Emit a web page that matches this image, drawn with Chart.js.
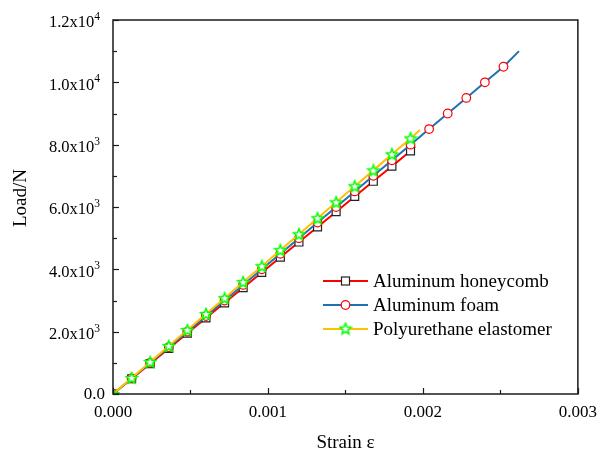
<!DOCTYPE html>
<html><head><meta charset="utf-8">
<script src="https://cdn.jsdelivr.net/npm/chart.js@4/dist/chart.umd.min.js"></script>
<style>html,body{margin:0;padding:0;background:#fff}#wrap{width:597px;height:454px}</style>
</head><body><div id="wrap"><canvas id="c" width="597" height="454"></canvas></div>
<script>
// ---- data ----
const seriesNames = ['Aluminum honeycomb', 'Aluminum foam', 'Polyurethane elastomer'];
const xTitle = 'Strain ε';
const yTitle = 'Load/N';

const strainHoneycomb = [0, 0.00012, 0.00024, 0.00036, 0.00048, 0.0006, 0.00072, 0.00084, 0.00096, 0.00108, 0.0012, 0.00132, 0.00144, 0.00156, 0.00168, 0.0018, 0.00192, 0.00195];
const loadHoneycomb   = [0, 490, 975, 1460, 1950, 2440, 2925, 3410, 3900, 4390, 4875, 5360, 5850, 6340, 6825, 7310, 7800, 7940];

const strainFoam = [0, 0.00012, 0.00024, 0.00036, 0.00048, 0.0006, 0.00072, 0.00084, 0.00096, 0.00108, 0.0012, 0.00132, 0.00144, 0.00156, 0.00168, 0.0018, 0.00192, 0.00204, 0.00216, 0.00228, 0.0024, 0.00252, 0.00262];
const loadFoam   = [0, 500, 1000, 1500, 2000, 2500, 3000, 3500, 4000, 4500, 5000, 5500, 6000, 6500, 7000, 7500, 8000, 8500, 9000, 9500, 10000, 10500, 11000];

const strainPU = [0, 0.00012, 0.00024, 0.00036, 0.00048, 0.0006, 0.00072, 0.00084, 0.00096, 0.00108, 0.0012, 0.00132, 0.00144, 0.00156, 0.00168, 0.0018, 0.00192, 0.00198];
const loadPU   = [0, 515, 1025, 1540, 2050, 2565, 3075, 3590, 4100, 4615, 5125, 5640, 6150, 6665, 7175, 7690, 8200, 8470];

const xTickValues = [0, 0.001, 0.002, 0.003];
const yTickValues = [0, 2000, 4000, 6000, 8000, 10000, 12000];

// ---- styling ----
const FONT = '"Liberation Serif", "Times New Roman", serif';
const colors = ['#FF0000', '#1F72B0', '#FFC000'];

function makeStar(){
  const c = document.createElement('canvas');
  c.width = 14; c.height = 14;
  const g = c.getContext('2d');
  g.beginPath();
  for (let i = 0; i < 10; i++) {
    const r = i % 2 === 0 ? 5.8 : 2.6;
    const a = -Math.PI / 2 + i * Math.PI / 5;
    const px = 7 + r * Math.cos(a), py = 7.4 + r * Math.sin(a);
    if (i === 0) g.moveTo(px, py); else g.lineTo(px, py);
  }
  g.closePath();
  g.fillStyle = '#ffffff'; g.fill();
  g.strokeStyle = '#00FF00'; g.lineWidth = 1.5; g.stroke();
  return c;
}
const starImg = makeStar();

function pairs(xs, ys){ return xs.map((x, i) => ({x: x, y: ys[i]})); }
function lastHidden(r){ return ctx => ctx.dataIndex === ctx.dataset.data.length - 1 ? 0 : r; }

function sciParts(v){
  if (v === 0) return ['0.0', ''];
  const e = Math.floor(Math.log10(v) + 1e-9);
  const m = v / Math.pow(10, e);
  return [m.toFixed(1) + 'x10', String(e)];
}

const framePlugin = {
  id: 'frame',
  afterDraw(chart){
    const {ctx, chartArea: a, scales} = chart;
    ctx.save();
    ctx.strokeStyle = '#1a1a1a';
    ctx.lineWidth = 1.5;
    ctx.strokeRect(a.left, a.top, a.right - a.left, a.bottom - a.top);
    ctx.lineWidth = 1.2;
    // inward ticks (major + minor)
    for (let i = 0; i <= 6; i++) {
      const v = i * 0.0005;
      const px = Math.round(scales.x.getPixelForValue(v)) + 0.5;
      const len = i % 2 === 0 ? 6 : 4;
      ctx.beginPath(); ctx.moveTo(px, a.bottom); ctx.lineTo(px, a.bottom - len); ctx.stroke();
    }
    for (let i = 0; i <= 12; i++) {
      const v = i * 1000;
      const py = Math.round(scales.y.getPixelForValue(v)) + 0.5;
      const len = i % 2 === 0 ? 6 : 4;
      ctx.beginPath(); ctx.moveTo(a.left, py); ctx.lineTo(a.left + len, py); ctx.stroke();
    }
    // y tick labels with superscript exponents
    ctx.fillStyle = '#000';
    ctx.textAlign = 'right';
    ctx.textBaseline = 'middle';
    yTickValues.forEach(v => {
      const py = scales.y.getPixelForValue(v);
      const [main, exp] = sciParts(v);
      if (!exp) {
        ctx.font = '17px ' + FONT;
        ctx.fillText(main, a.left - 8, py + 1);
        return;
      }
      ctx.font = '11.5px ' + FONT;
      const w = ctx.measureText(exp).width;
      ctx.fillText(exp, a.left - 13, py - 3);
      ctx.font = '16.5px ' + FONT;
      ctx.fillText(main, a.left - 13 - w, py + 3);
    });
    // y axis title
    ctx.save();
    ctx.translate(21.5, 198);
    ctx.rotate(-Math.PI / 2);
    ctx.textAlign = 'center';
    ctx.font = '19px ' + FONT;
    ctx.fillText(yTitle, 0, 0);
    ctx.restore();
    ctx.textAlign = 'left';
    // legend
    const lx0 = a.left + 210, lx1 = a.left + 255, tx = a.left + 260;
    const rows = [a.top + 261, a.top + 285, a.top + 309];
    ctx.font = '19px ' + FONT;
    ctx.textBaseline = 'middle';
    rows.forEach((y, i) => {
      ctx.strokeStyle = colors[i]; ctx.lineWidth = 2;
      ctx.beginPath(); ctx.moveTo(lx0, y); ctx.lineTo(lx1, y); ctx.stroke();
      const mx = (lx0 + lx1) / 2;
      if (i === 0) {
        ctx.fillStyle = '#fff'; ctx.fillRect(mx - 4, y - 4, 8, 8);
        ctx.strokeStyle = '#222'; ctx.lineWidth = 1.2; ctx.strokeRect(mx - 4, y - 4, 8, 8);
      } else if (i === 1) {
        ctx.beginPath(); ctx.arc(mx, y, 4.3, 0, Math.PI * 2);
        ctx.fillStyle = '#fff'; ctx.fill();
        ctx.strokeStyle = '#FF0000'; ctx.lineWidth = 1.2; ctx.stroke();
      } else {
        ctx.drawImage(starImg, mx - 7, y - 7.4);
      }
      ctx.fillStyle = '#000';
      ctx.fillText(seriesNames[i], tx, y + 1);
    });
    ctx.restore();
  }
};

new Chart(document.getElementById('c'), {
  type: 'scatter',
  data: {
    datasets: [
      {
        label: seriesNames[0], data: pairs(strainHoneycomb, loadHoneycomb), showLine: true,
        borderColor: colors[0], borderWidth: 2, pointStyle: 'rect',
        pointRadius: lastHidden(5.6), pointBorderColor: '#222', pointBackgroundColor: '#fff', pointBorderWidth: 1.2,
        order: 3
      },
      {
        label: seriesNames[1], data: pairs(strainFoam, loadFoam), showLine: true,
        borderColor: colors[1], borderWidth: 2, pointStyle: 'circle',
        pointRadius: lastHidden(4.3), pointBorderColor: '#FF0000', pointBackgroundColor: '#fff', pointBorderWidth: 1.2,
        order: 2
      },
      {
        label: seriesNames[2], data: pairs(strainPU, loadPU), showLine: true,
        borderColor: colors[2], borderWidth: 2, pointStyle: starImg,
        pointRadius: lastHidden(5), order: 1
      }
    ]
  },
  options: {
    responsive: false, animation: false, devicePixelRatio: 1,
    layout: {padding: {left: 0, top: 20, right: 19, bottom: 0}},
    plugins: {legend: {display: false}, tooltip: {enabled: false}},
    scales: {
      x: {
        type: 'linear', min: 0, max: 0.003,
        afterBuildTicks: s => { s.ticks = xTickValues.map(v => ({value: v})); },
        afterFit: s => { s.height = 60; },
        grid: {display: false}, border: {display: false},
        ticks: {color: '#000', font: {family: FONT, size: 17}, padding: 0, maxRotation: 0,
          callback: v => Number(v).toFixed(3)},
        title: {display: true, text: xTitle, color: '#000', font: {family: FONT, size: 19}, padding: {top: 0, bottom: 0}}
      },
      y: {
        type: 'linear', min: 0, max: 12000,
        afterBuildTicks: s => { s.ticks = yTickValues.map(v => ({value: v})); },
        afterFit: s => { s.width = 113; },
        grid: {display: false}, border: {display: false},
        ticks: {display: false},
        title: {display: false}
      }
    }
  },
  plugins: [framePlugin]
});
</script>
</body></html>
